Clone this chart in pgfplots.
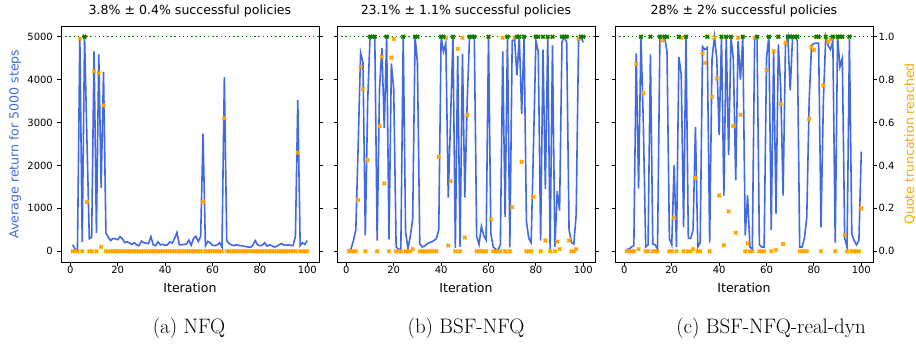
\documentclass[border=0pt]{standalone}
\usepackage{fontspec}
\setsansfont{DejaVu Sans}
\usepackage{pgfplots}
\pgfplotsset{compat=1.18}
\usepackage{pgfplotstable}
\definecolor{rblue}{HTML}{4169E1}
\definecolor{morange}{HTML}{FFA500}
\definecolor{mgreen}{HTML}{008000}
\newcommand\tickfont{\fontsize{10}{12}\selectfont\sffamily}
\newcommand\labfont{\fontsize{12.6}{15}\selectfont\sffamily}

\pgfplotstableread{
i r t
1 150 0
2 50 0
3 20 0
4 4990 0.99
5 220 0
6 5000 1
7 2600 0.23
8 290 0
9 330 0
10 4660 0.84
11 430 0
12 4590 0.83
13 1480 0.02
14 4180 0.68
15 430 0
16 330 0
17 250 0
18 300 0
19 290 0
20 270 0
21 340 0
22 290 0
23 200 0
24 220 0
25 190 0
26 160 0
27 200 0
28 150 0
29 130 0
30 240 0
31 200 0
32 190 0
33 180 0
34 340 0
35 150 0
36 130 0
37 220 0
38 150 0
39 160 0
40 140 0
41 150 0
42 220 0
43 190 0
44 300 0
45 440 0
46 150 0
47 150 0
48 160 0
49 170 0
50 260 0
51 140 0
52 300 0
53 350 0
54 230 0
55 350 0
56 2740 0.23
57 130 0
58 230 0
59 200 0
60 140 0
61 130 0
62 150 0
63 200 0
64 100 0
65 4060 0.62
66 250 0
67 180 0
68 150 0
69 130 0
70 150 0
71 140 0
72 130 0
73 120 0
74 110 0
75 100 0
76 90 0
77 140 0
78 250 0
79 150 0
80 130 0
81 140 0
82 200 0
83 120 0
84 150 0
85 130 0
86 100 0
87 110 0
88 150 0
89 180 0
90 150 0
91 140 0
92 150 0
93 140 0
94 130 0
95 350 0
96 3530 0.46
97 130 0
98 200 0
99 160 0
100 250 0
}\dataA

\pgfplotstableread{
i r t
1 20 0
2 60 0
3 250 0
4 500 0
5 2500 0.24
6 4630 0.86
7 4400 0.756
8 370 0
9 3500 0.425
10 5000 1
11 5000 1
12 5000 1
13 250 0
14 3800 0.584
15 4740 0.906
16 2870 0.316
17 5000 1
18 280 0
19 4375 0.903
20 3770 0.99
21 100 0
22 50 0
23 50 0
24 5000 1
25 450 0
26 70 0
27 350 0
28 750 0.01
29 5000 1
30 4400 1
31 170 0
32 100 0
33 120 0
34 170 0
35 200 0
36 220 0
37 250 0
38 300 0
39 500 0.44
40 5000 1
41 4650 1
42 4850 0.995
43 1250 0.027
44 3100 0.327
45 5000 1
46 80 0
47 4550 0.944
48 100 0
49 4600 0.995
50 1250 0.064
51 3500 0.636
52 5000 1
53 5000 1
54 5000 1
55 350 0
56 160 0
57 580 0
58 370 0
59 265 0
60 5000 1
61 400 0.15
62 100 0
63 50 0
64 30 0
65 150 0
66 4660 0.995
67 800 0
68 5000 1
69 90 0
70 4900 0.206
71 4950 0.995
72 4100 1
73 5000 1
74 3200 0.417
75 5000 1
76 700 0
77 300 0
78 200 0
79 2500 0.253
80 4900 1
81 4650 1
82 250 0
83 4700 1
84 1450 0.05
85 5000 1
86 50 0
87 4800 1
88 100 0
89 1400 0.045
90 950 0.01
91 4870 1
92 5000 1
93 4870 1
94 500 0.05
95 200 0
96 170 0
97 850 0.01
98 4900 0.99
99 5000 1
100 4870 1
}\dataB

\pgfplotstableread{
i r t
1 50 0
2 50 0
3 100 0
4 130 0
5 4610 0.873
6 1460 0.01
7 5000 1
8 3000 0.737
9 100 0
10 150 0
11 4590 1
12 170 0
13 150 0
14 50 0
15 5000 1
16 5000 0.983
17 5000 1
18 4650 1
19 300 0
20 150 0
21 2010 0.156
22 100 0
23 4530 1
24 4120 0.995
25 560 0
26 5000 1
27 300 0
28 300 0
29 500 0.01
30 2900 0.342
31 100 0
32 200 0
33 4770 0.922
34 4700 0.878
35 4750 1
36 200 0
37 4470 0.72
38 5000 0.995
39 4500 0.805
40 2710 0.26
41 5000 1
42 1300 0.028
43 5000 1
44 2240 0.186
45 5000 1
46 4470 0.584
47 1650 0.086
48 4900 0.995
49 4000 0.636
50 5000 1
51 370 0
52 1300 0.037
53 100 0
54 50 0
55 4980 0.995
56 4950 1
57 150 0
58 100 0
59 100 0
60 4500 0.844
61 5000 1
62 500 0
63 4650 0.933
64 875 0.006
65 4820 1
66 3800 0.688
67 1300 0.034
68 4800 0.972
69 5000 1
70 3750 1
71 5000 1
72 5000 1
73 4900 1
74 100 0
75 100 0
76 300 0
77 800 0
78 3500 0.617
79 4800 0.951
80 4840 0.938
81 4850 1
82 4850 1
83 560 0
84 3500 0.773
85 5000 1
86 4800 0.975
87 4700 0.988
88 4900 1
89 200 0
90 5000 1
91 4300 1
92 4500 1
93 300 0.077
94 100 0
95 4950 1
96 400 0
97 250 0
98 150 0
99 250 0
100 2320 0.2
}\dataC

\pgfplotsset{
  base/.style={
    width=258bp, height=236bp, scale only axis,
    xmin=-3.95, xmax=104.95,
    tick align=outside,
    major tick length=3.5bp,
    every tick/.style={black, line width=0.8bp},
    axis line style={line width=0.8bp},
    /pgf/number format/assume math mode=true,
    tick label style={font=\tickfont},
    label style={font=\labfont},
  },
  leftax/.style={base,
    ymin=-250, ymax=5250,
    xtick={0,20,40,60,80,100}, xtick pos=bottom,
    ytick={0,1000,2000,3000,4000,5000}, ytick pos=left,
    scaled y ticks=false,
    yticklabel style={/pgf/number format/1000 sep={}, anchor=east, inner sep=0pt, xshift=-4.5bp},
    xticklabel style={anchor=north, inner sep=0pt, yshift=-0.5bp},
    xlabel={Iteration},
    every axis x label/.style={at={(axis description cs:0.5,0)}, anchor=base, yshift=-30bp, font=\labfont},
    title style={font=\labfont, at={(0.5,1)}, anchor=base, yshift=5.5bp},
  },
  rightax/.style={base,
    ymin=-0.05, ymax=1.05,
    axis x line=none, axis y line*=right,
    ytick={0,0.2,0.4,0.6,0.8,1}, ytick pos=right,
    yticklabel style={/pgf/number format/.cd, fixed, fixed zerofill, precision=1, /tikz/.cd, anchor=west, inner sep=0pt, xshift=2bp},
  },
  blueline/.style={color=rblue, line width=1.6bp, mark=none},
  gline/.style={color=mgreen, line width=1.4bp, dash pattern=on 1.3bp off 2.9bp},
  omark/.style={only marks, mark=x, mark size=2.4bp, color=morange, line width=1.7bp},
  gmark/.style={only marks, mark=x, mark size=2.4bp, color=mgreen, line width=1.7bp},
}

\begin{document}
\begin{tikzpicture}
\useasboundingbox (0,0) rectangle (916bp,345bp);

% ---------- panel (a)
\begin{axis}[leftax, at={(61bp,83bp)}, anchor=south west,
  title={3.8\% ± 0.4\% successful policies},
  ylabel={Average return for 5000 steps},
  every axis y label/.style={at={(axis description cs:-0.178,0.5)}, anchor=center, rotate=90, color=rblue, font=\labfont}]
\addplot[gline] coordinates {(-3.95,5000) (104.95,5000)};
\addplot[blueline] table[x=i,y=r] {\dataA};
\end{axis}
\begin{axis}[rightax, at={(61bp,83bp)}, anchor=south west, yticklabels={}]
\addplot[omark] table[x=i,y=t] {\dataA};
\addplot[gmark] coordinates {(6,1)};
\end{axis}

% ---------- panel (b)
\begin{axis}[leftax, at={(337bp,83bp)}, anchor=south west,
  title={23.1\% ± 1.1\% successful policies}, yticklabels={}]
\addplot[gline] coordinates {(-3.95,5000) (104.95,5000)};
\addplot[blueline] table[x=i,y=r] {\dataB};
\end{axis}
\begin{axis}[rightax, at={(337bp,83bp)}, anchor=south west, yticklabels={}]
\addplot[omark] table[x=i,y=t] {\dataB};
\addplot[gmark] coordinates {(10,1) (11,1) (12,1) (17,1) (24,1) (29,1) (30,1) (40,1) (41,1) (45,1) (52,1) (53,1) (54,1) (60,1) (68,1) (72,1) (73,1) (75,1) (80,1) (81,1) (83,1) (85,1) (87,1) (91,1) (92,1) (93,1) (99,1) (100,1)};
\end{axis}

% ---------- panel (c)
\begin{axis}[leftax, at={(615bp,83bp)}, anchor=south west,
  title={28\% ± 2\% successful policies}, yticklabels={}]
\addplot[gline] coordinates {(-3.95,5000) (104.95,5000)};
\addplot[blueline] table[x=i,y=r] {\dataC};
\end{axis}
\begin{axis}[rightax, at={(615bp,83bp)}, anchor=south west,
  ylabel={Quote truncation reached},
  every axis y label/.style={at={(axis description cs:1.143,0.5)}, anchor=center, rotate=90, color=morange, font=\labfont}]
\addplot[omark] table[x=i,y=t] {\dataC};
\addplot[gmark] coordinates {(7,1) (11,1) (15,1) (17,1) (18,1) (23,1) (26,1) (35,1) (41,1) (43,1) (45,1) (50,1) (56,1) (61,1) (65,1) (69,1) (70,1) (71,1) (72,1) (73,1) (81,1) (82,1) (85,1) (88,1) (90,1) (91,1) (92,1) (95,1)};
\end{axis}

% ---------- captions
\node[font=\fontsize{21}{24}\selectfont\rmfamily, anchor=base] at (189bp,12bp) {(a) NFQ};
\node[font=\fontsize{21}{24}\selectfont\rmfamily, anchor=base] at (466bp,12bp) {(b) BSF-NFQ};
\node[font=\fontsize{21}{24}\selectfont\rmfamily, anchor=base] at (771bp,12bp) {(c) BSF-NFQ-real-dyn};
\end{tikzpicture}
\end{document}
